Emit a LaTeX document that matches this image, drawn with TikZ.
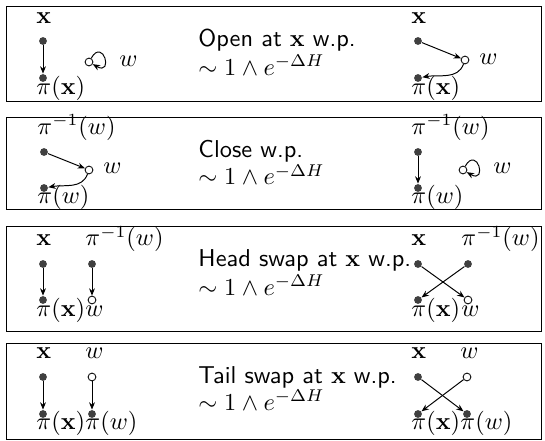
\documentclass[tikz,border=0pt]{standalone}
\usepackage{xcolor}
\usepackage{tikz}
\usetikzlibrary{arrows.meta}
\usepackage{amsmath,amssymb}

\begin{document}
\begin{tikzpicture}[x=0.41pt, y=0.41pt, >={Stealth[length=3pt,width=2.4pt]},
  dot/.style={circle, fill=black!75, inner sep=0pt, minimum size=3.2pt},
  hole/.style={circle, draw, fill=white, inner sep=0pt, minimum size=3.2pt,
    line width=0.35pt},
  lbl/.style={inner sep=0pt, anchor=base west},
  txt/.style={inner sep=0pt, anchor=base west, font=\sffamily}]
  \useasboundingbox (0,0) rectangle (545,440);
  \draw (6,434) rectangle (541,339);
  \draw (6,323) rectangle (541,231);
  \draw (6,214) rectangle (541,109);
  \draw (6,97) rectangle (541,1);

  % open
  \node[dot] (a1) at (43,399) {};
  \node[dot] (b1) at (43,362) {};
  \node[hole] (w1) at (89,378) {};
  \node[lbl] (a1l) at ([shift={(-7,18)}]a1) {$\mathbf{x}$};
  \node[lbl] (b1l) at ([shift={(-7,-16)}]b1) {$\pi(\mathbf{x})$};
  \node[lbl] (w1l) at ([shift={(30,-4)}]w1) {$w$};
  \draw[->] (a1) -- (b1);
  \draw[->] (w1) to[out=60, in=-30, distance=10pt] (w1);
  \node[txt] (t1) at (198,393) {Open at $\mathbf{x}$ w.p.};
  \node[txt] (s1) at (198,365) {$\sim 1\wedge e^{-\Delta H}$};
  \node[dot] (c1) at (418,399) {};
  \node[dot] (d1) at (418,362) {};
  \node[hole] (v1) at (465,380) {};
  \node[lbl] (c1l) at ([shift={(-7,18)}]c1) {$\mathbf{x}$};
  \node[lbl] (d1l) at ([shift={(-7,-16)}]d1) {$\pi(\mathbf{x})$};
  \node[lbl] (v1l) at ([shift={(14,-4)}]v1) {$w$};
  \draw[->] (c1) -- (v1);
  \draw[->] (v1) to[out=-110, in=10] (d1);

  % close
  \node[dot] (a2) at (44,288) {};
  \node[dot] (b2) at (44,252) {};
  \node[hole] (w2) at (89,270) {};
  \node[lbl] (a2l) at ([shift={(-7,18)}]a2) {$\pi^{-1}(w)$};
  \node[lbl] (b2l) at ([shift={(-7,-16)}]b2) {$\pi(w)$};
  \node[lbl] (w2l) at ([shift={(14,-4)}]w2) {$w$};
  \draw[->] (a2) -- (w2);
  \draw[->] (w2) to[out=-110, in=10] (b2);
  \node[txt] (t2) at (198,283) {Close w.p.};
  \node[txt] (s2) at (198,255) {$\sim 1\wedge e^{-\Delta H}$};
  \node[dot] (c2) at (418,288) {};
  \node[dot] (d2) at (418,252) {};
  \node[hole] (v2) at (463,270) {};
  \node[lbl] (c2l) at ([shift={(-7,18)}]c2) {$\pi^{-1}(w)$};
  \node[lbl] (d2l) at ([shift={(-7,-16)}]d2) {$\pi(w)$};
  \node[lbl] (v2l) at ([shift={(30,-4)}]v2) {$w$};
  \draw[->] (c2) -- (d2);
  \draw[->] (v2) to[out=60, in=-30, distance=10pt] (v2);

  % head swap
  \node[dot] (a3) at (43,176) {};
  \node[dot] (e3) at (92,176) {};
  \node[dot] (b3) at (43,140) {};
  \node[hole] (w3) at (92,140) {};
  \node[lbl] (a3l) at ([shift={(-7,18)}]a3) {$\mathbf{x}$};
  \node[lbl] (e3l) at ([shift={(-7,18)}]e3) {$\pi^{-1}(w)$};
  \node[lbl] (b3l) at ([shift={(-7,-16)}]b3) {$\pi(\mathbf{x})$};
  \node[lbl] (w3l) at ([shift={(-7,-16)}]w3) {$w$};
  \draw[->] (a3) -- (b3);
  \draw[->] (e3) -- (w3);
  \node[txt] (t3) at (198,173) {Head swap at $\mathbf{x}$ w.p.};
  \node[txt] (s3) at (198,145) {$\sim 1\wedge e^{-\Delta H}$};
  \node[dot] (c3) at (418,176) {};
  \node[dot] (f3) at (468,176) {};
  \node[dot] (d3) at (418,140) {};
  \node[hole] (v3) at (468,140) {};
  \node[lbl] (c3l) at ([shift={(-7,18)}]c3) {$\mathbf{x}$};
  \node[lbl] (f3l) at ([shift={(-7,18)}]f3) {$\pi^{-1}(w)$};
  \node[lbl] (d3l) at ([shift={(-7,-16)}]d3) {$\pi(\mathbf{x})$};
  \node[lbl] (v3l) at ([shift={(-7,-16)}]v3) {$w$};
  \draw[->] (c3) -- (v3);
  \draw[->] (f3) -- (d3);

  % tail swap
  \node[dot] (a4) at (43,63) {};
  \node[hole] (w4) at (92,63) {};
  \node[dot] (b4) at (43,26) {};
  \node[dot] (e4) at (92,26) {};
  \node[lbl] (a4l) at ([shift={(-7,18)}]a4) {$\mathbf{x}$};
  \node[lbl] (w4l) at ([shift={(-7,18)}]w4) {$w$};
  \node[lbl] (b4l) at ([shift={(-7,-16)}]b4) {$\pi(\mathbf{x})$};
  \node[lbl] (e4l) at ([shift={(-7,-16)}]e4) {$\pi(w)$};
  \draw[->] (a4) -- (b4);
  \draw[->] (w4) -- (e4);
  \node[txt] (t4) at (198,57) {Tail swap at $\mathbf{x}$ w.p.};
  \node[txt] (s4) at (198,30) {$\sim 1\wedge e^{-\Delta H}$};
  \node[dot] (c4) at (418,63) {};
  \node[hole] (v4) at (467,63) {};
  \node[dot] (d4) at (418,26) {};
  \node[dot] (f4) at (467,26) {};
  \node[lbl] (c4l) at ([shift={(-7,18)}]c4) {$\mathbf{x}$};
  \node[lbl] (v4l) at ([shift={(-7,18)}]v4) {$w$};
  \node[lbl] (d4l) at ([shift={(-7,-16)}]d4) {$\pi(\mathbf{x})$};
  \node[lbl] (f4l) at ([shift={(-7,-16)}]f4) {$\pi(w)$};
  \draw[->] (c4) -- (f4);
  \draw[->] (v4) -- (d4);
\end{tikzpicture}
\end{document}
